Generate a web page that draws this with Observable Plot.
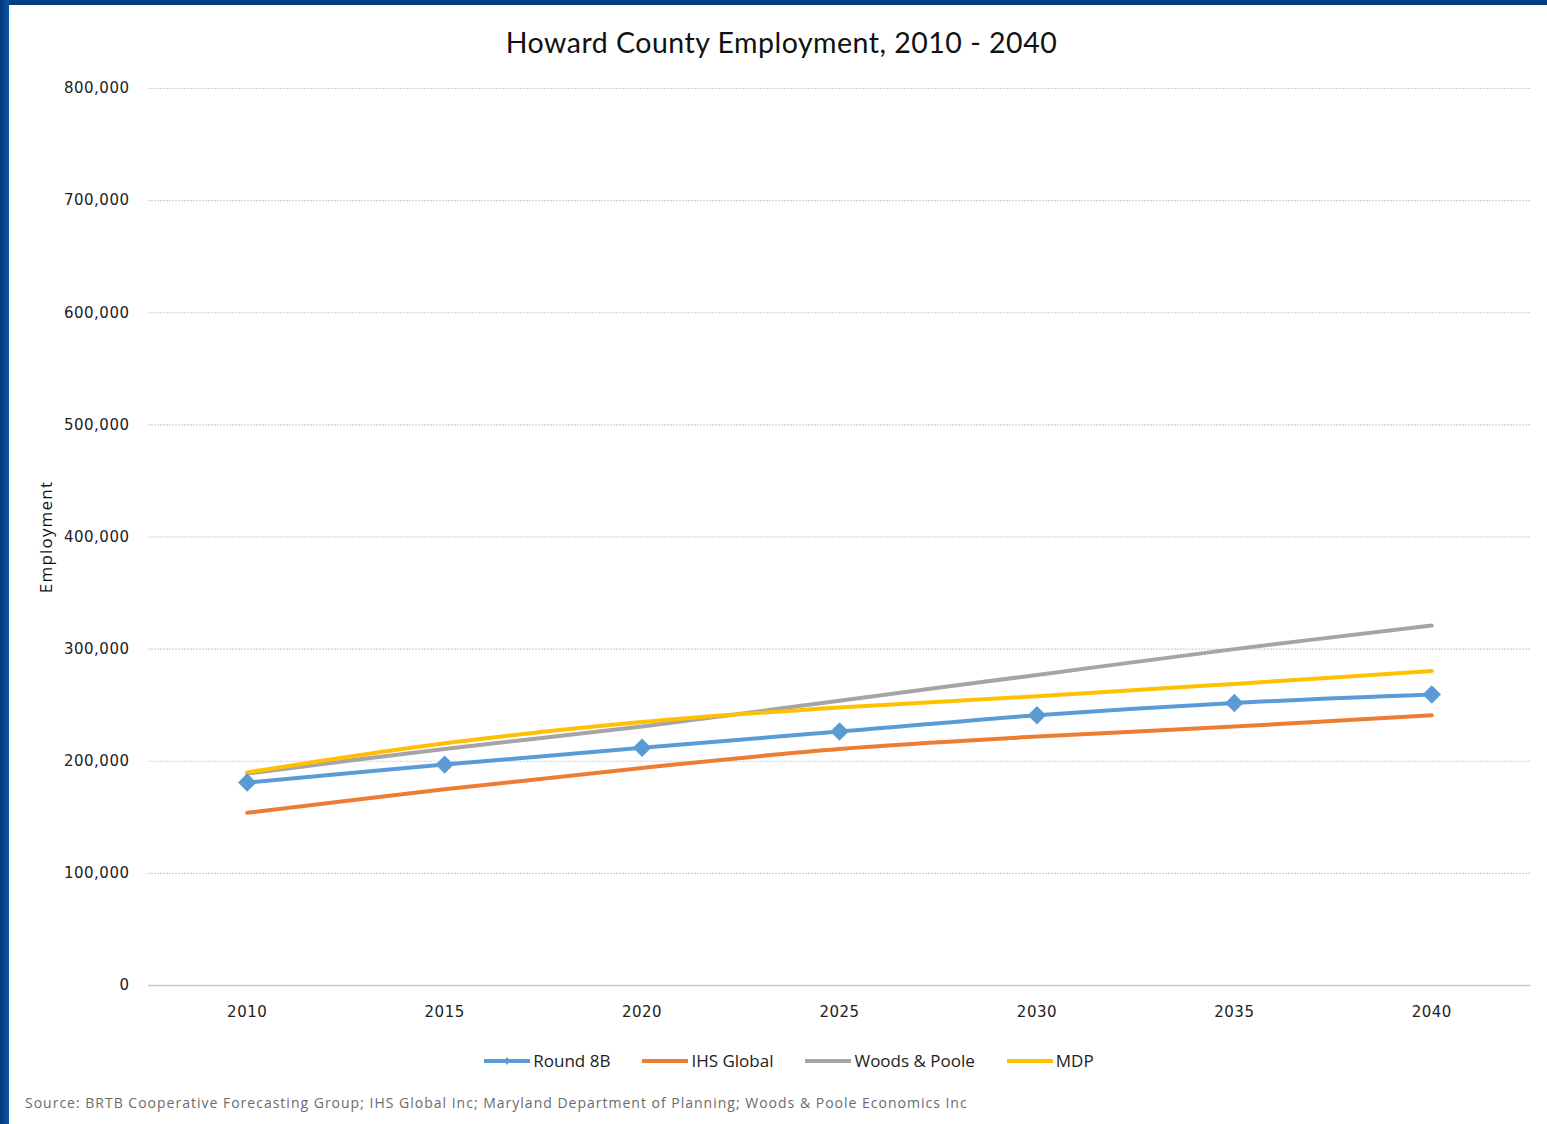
<!DOCTYPE html>
<html>
<head>
<meta charset="utf-8">
<script src="https://cdn.jsdelivr.net/npm/d3@7"></script>
<script src="https://cdn.jsdelivr.net/npm/@observablehq/plot@0.6"></script>
<style>
  html, body { margin: 0; padding: 0; background: #fff; }
  #frame { position: relative; width: 1547px; height: 1124px; overflow: hidden; background: #fff; }
  #topbar { position: absolute; left: 0; top: 0; width: 1547px; height: 5px; background: #013f80; }
  #leftbar { position: absolute; left: 0; top: 0; width: 9px; height: 1124px; background: linear-gradient(to right, #01387a, #0a56a8); }
  #title { position: absolute; left: 9px; width: 1545px; top: 25px; text-align: center; font-family: Lato, "Open Sans", sans-serif; font-size: 28.5px; color: #111; letter-spacing: 0.5px; }
  #chart { position: absolute; left: 9px; top: 70px; }
  #ylabel { position: absolute; left: 45px; top: 537px; transform: translate(-50%, -50%) rotate(-90deg); font-family: "Open Sans", sans-serif; font-size: 17px; letter-spacing: 1.2px; color: #111; white-space: nowrap; }
  #legend { position: absolute; left: 9px; width: 1560px; top: 1049px; display: flex; justify-content: center; gap: 32px; font-family: "Open Sans", sans-serif; font-size: 17px; color: #222; }
  .item { display: flex; align-items: center; gap: 3px; }
  #source { position: absolute; left: 25px; top: 1093px; font-family: "Open Sans", sans-serif; font-size: 14px; letter-spacing: 1px; color: #6b6b6b; }
  #chart text { letter-spacing: 0.5px; }
</style>
</head>
<body>
<div id="frame">
  <div id="topbar"></div>
  <div id="leftbar"></div>
  <div id="title">Howard County Employment, 2010 - 2040</div>
  <div id="chart"></div>
  <div id="ylabel">Employment</div>
  <div id="legend"></div>
  <div id="source">Source: BRTB Cooperative Forecasting Group; IHS Global Inc; Maryland Department of Planning; Woods &amp; Poole Economics Inc</div>
</div>
<script>
const years = [2010, 2015, 2020, 2025, 2030, 2035, 2040];
const round8B = [181000, 197000, 212000, 226500, 241000, 252000, 259500];
const ihsGlobal = [154000, 175000, 194000, 211000, 222000, 231000, 241000];
const woodsPoole = [189000, 211000, 231000, 254000, 277000, 300000, 321000];
const mdp = [190000, 216000, 235000, 248000, 258000, 269000, 280500];
const seriesNames = ["Round 8B", "IHS Global", "Woods & Poole", "MDP"];
const seriesColors = ["#5b9bd5", "#ed7d31", "#a5a5a5", "#ffc000"];
const yTicks = [0, 100000, 200000, 300000, 400000, 500000, 600000, 700000, 800000];

const seriesValues = [round8B, ihsGlobal, woodsPoole, mdp];
const rows = seriesNames.flatMap((name, i) =>
  years.map((year, j) => ({series: name, year, value: seriesValues[i][j]})));

const fmt = d3.format(",");
const chart = Plot.plot({
  width: 1538,
  height: 955,
  marginLeft: 139,
  marginRight: 17,
  marginTop: 18,
  marginBottom: 40,
  style: {fontFamily: "'DejaVu Sans', Verdana, sans-serif", fontSize: "15px", color: "#222", background: "transparent"},
  x: {domain: [2007.5, 2042.5], label: null},
  y: {domain: [0, 800000], label: null},
  color: {domain: seriesNames, range: seriesColors},
  marks: [
    Plot.ruleY(yTicks, {stroke: "#d2d0d0", strokeWidth: 1.2, strokeDasharray: "2,1"}),
    Plot.ruleY([0], {stroke: "#c8c8c8", strokeWidth: 1.3}),
    Plot.axisX({ticks: years, tickFormat: d => String(d), tickSize: 0, tickPadding: 21, fontSize: 15, label: null}),
    Plot.axisY({ticks: yTicks, tickFormat: fmt, tickSize: 0, tickPadding: 19, fontSize: 15, label: null}),
    Plot.line(rows, {x: "year", y: "value", z: "series", stroke: "series", strokeWidth: 4, curve: "catmull-rom"}),
    Plot.dot(rows.filter(d => d.series === "Round 8B"), {x: "year", y: "value", fill: "series", symbol: "diamond2", r: 8.3, stroke: null})
  ]
});
document.getElementById("chart").appendChild(chart);

const legend = document.getElementById("legend");
seriesNames.forEach((name, i) => {
  const item = document.createElement("div");
  item.className = "item";
  const marker = i === 0 ? `<path d="M23,7 L26,11 L23,15 L20,11 Z" fill="${seriesColors[i]}"/>` : "";
  item.innerHTML = `<svg width="46" height="22"><line x1="0" y1="11" x2="46" y2="11" stroke="${seriesColors[i]}" stroke-width="4"/>${marker}</svg><span>${name}</span>`;
  legend.appendChild(item);
});
</script>
</body>
</html>
